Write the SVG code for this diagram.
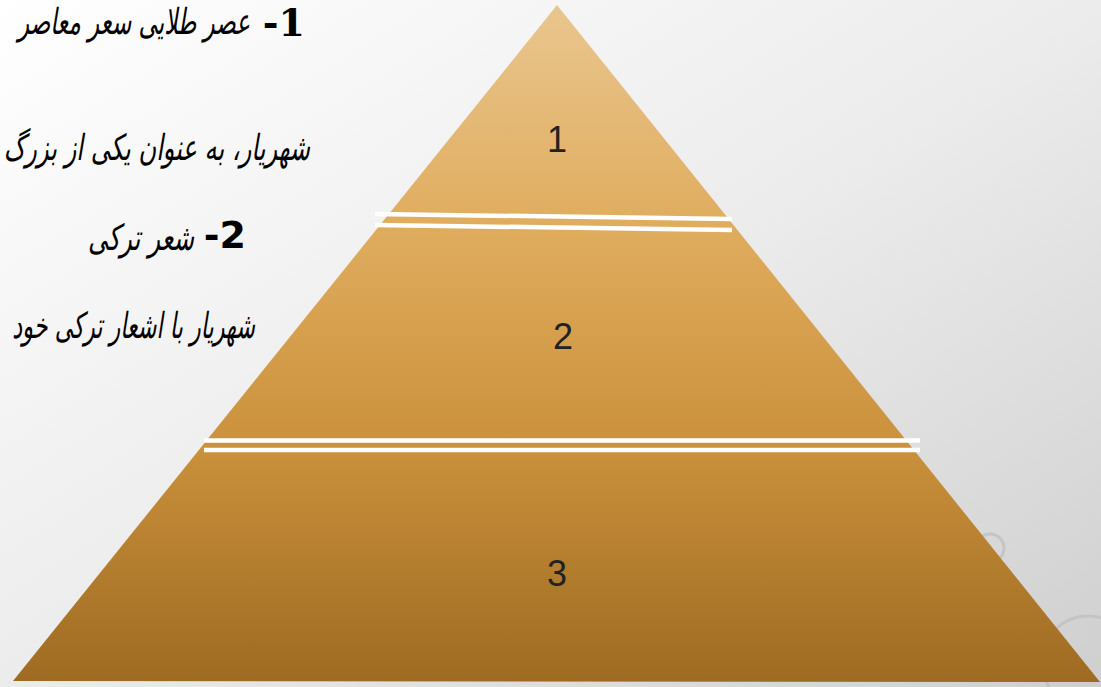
<svg xmlns="http://www.w3.org/2000/svg" width="1101" height="687" viewBox="0 0 1101 687">
  <defs>
    <linearGradient id="bg" x1="0" y1="0" x2="1" y2="1">
      <stop offset="0" stop-color="#ffffff"/>
      <stop offset="0.5" stop-color="#ececec"/>
      <stop offset="1" stop-color="#cfcfcf"/>
    </linearGradient>
    <linearGradient id="pyr" x1="0" y1="5" x2="0" y2="681" gradientUnits="userSpaceOnUse">
      <stop offset="0" stop-color="#e9c68f"/>
      <stop offset="0.32" stop-color="#e0ad5f"/>
      <stop offset="0.65" stop-color="#cb913c"/>
      <stop offset="1" stop-color="#9e6b22"/>
    </linearGradient>
    <style>
      .fa { font-family: "DejaVu Sans", sans-serif; font-size: 36px; fill: #000; font-style: italic; text-anchor: end; }
      .bn { font-size: 38px; font-weight: bold; fill: #000; text-anchor: end; }
      .num { font-family: "Liberation Sans", Arial, sans-serif; font-size: 36px; fill: #222; text-anchor: middle; }
      .sep { stroke: #ffffff; stroke-width: 4.5; fill: none; }
      .drop { fill: none; stroke: #bdbdbd; stroke-width: 3; opacity: 0.7; }
    </style>
  </defs>
  <rect x="0" y="0" width="1101" height="687" fill="url(#bg)"/>
  <g id="drops">
    <circle class="drop" cx="1088" cy="662" r="46"/>
    <circle class="drop" cx="990" cy="548" r="14"/>
  </g>
  <g id="text-left">
    <text class="bn" x="305" y="36" font-family="DejaVu Serif, serif">-1</text>
    <text class="fa" transform="translate(250,34) scale(0.64,1)">عصر طلایی سعر معاصر</text>
    <text class="fa" transform="translate(310,160) scale(0.67,1)">شهریار، به عنوان یکی از بزرگ</text>
    <text class="bn" x="246" y="248" font-family="DejaVu Sans, sans-serif">-2</text>
    <text class="fa" transform="translate(194,250) scale(0.68,1)">شعر ترکی</text>
    <text class="fa" transform="translate(255,338) scale(0.62,1)">شهریار با اشعار ترکی خود</text>
  </g>
  <g id="pyramid">
    <polygon points="557,5 13,681 1100,682" fill="url(#pyr)"/>
  </g>
  <g id="connectors">
    <line class="sep" x1="375" y1="214" x2="732" y2="219"/>
    <line class="sep" x1="375" y1="225" x2="732" y2="230"/>
    <line class="sep" x1="204" y1="440.5" x2="920" y2="440.5"/>
    <line class="sep" x1="204" y1="450" x2="920" y2="450"/>
  </g>
  <g id="tier1"><text class="num" x="557" y="152">1</text></g>
  <g id="tier2"><text class="num" x="563" y="349">2</text></g>
  <g id="tier3"><text class="num" x="557" y="586">3</text></g>
</svg>
